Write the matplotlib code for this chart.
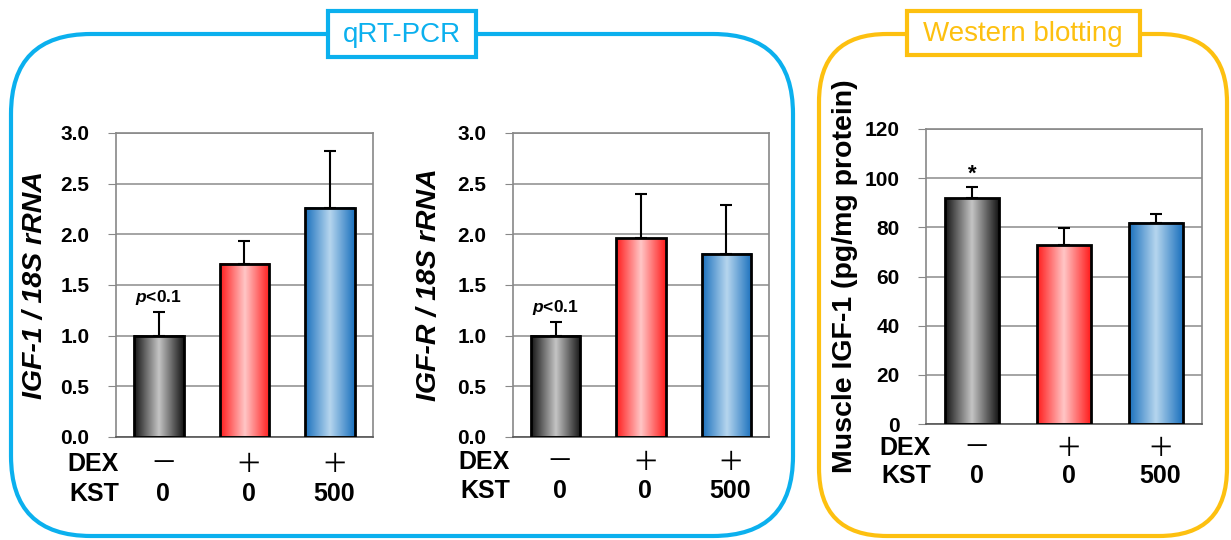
import numpy as np
import matplotlib
matplotlib.use("Agg")
import matplotlib.pyplot as plt
from matplotlib.patches import FancyBboxPatch, Rectangle
from matplotlib.colors import to_rgb
from matplotlib.transforms import blended_transform_factory

plt.rcParams['font.family'] = ['Liberation Sans', 'DejaVu Sans']
plt.rcParams['mathtext.fontset'] = 'custom'
plt.rcParams['mathtext.bfit'] = 'Liberation Sans:italic:bold'

# group settings
dex_labels = ['－', '＋', '＋']
kst_labels = ['0', '0', '500']

# qRT-PCR: IGF-1 / 18S rRNA
igf1_mean = [1.00, 1.71, 2.26]
igf1_err = [0.23, 0.22, 0.56]
# qRT-PCR: IGF-R / 18S rRNA
igfr_mean = [1.00, 1.96, 1.81]
igfr_err = [0.13, 0.44, 0.48]
# Western blotting: muscle IGF-1
musc_mean = [91.8, 72.8, 81.8]
musc_err = [4.6, 6.8, 3.5]

# (edge colour, centre colour) for the shaded bars
bar_shades = [('#151515', '#c4c4c4'),
              ('#ff1c1c', '#ffc6c6'),
              ('#1a70bd', '#b6d6ee')]

W, H = 1231, 540
fig = plt.figure(figsize=(W / 100, H / 100), dpi=100)


def fx(px):
    return px / W


def fy(py):
    return 1 - py / H


def shaded_bar(ax, x, h, width, edge, centre):
    t = np.linspace(0, 1, 200)
    w = 1 - np.abs(2 * t - 1)
    c0, c1 = np.array(to_rgb(edge)), np.array(to_rgb(centre))
    img = c0[None, :] + (c1 - c0)[None, :] * w[:, None]
    ax.imshow(img[None, :, :], extent=[x - width / 2, x + width / 2, 0, h],
              aspect='auto', zorder=2, interpolation='bilinear')


def panel(box, means, errs, ylim, yticks, fmt, ylabel, ylabel_x, label_style,
          label_x, rows_y, note, note_off, note_size):
    l, t, r, b = box
    ax = fig.add_axes([fx(l), fy(b), fx(r - l), (b - t) / H])
    x = np.arange(len(means))
    width = 0.58
    for xi, m, (e, c) in zip(x, means, bar_shades):
        shaded_bar(ax, xi, m, width, e, c)
    ax.bar(x, means, width, color='none', edgecolor='black', linewidth=2,
           zorder=4)
    ax.errorbar(x, means, yerr=[np.zeros(len(errs)), errs], fmt='none',
                ecolor='black', elinewidth=1.5, capsize=4, capthick=1.5,
                zorder=5)
    ax.set_xlim(-0.5, 2.5)
    ax.set_ylim(*ylim)
    ax.set_yticks(yticks)
    ax.set_yticklabels([fmt.format(v) for v in yticks], fontsize=15,
                       fontweight='bold')
    ax.set_xticks([])
    ax.yaxis.grid(True, color='#8c8c8c', linewidth=1.1)
    for g in ax.get_ygridlines():
        g.set_zorder(3)
    for s in ax.spines.values():
        s.set_color('#888888')
        s.set_linewidth(1.2)
    ax.spines['bottom'].set_color('#555555')
    ax.tick_params(axis='y', length=6, color='#888888', pad=13)

    fig.text(fx(ylabel_x), fy((t + b) / 2), ylabel, rotation=90, ha='center',
             va='center', fontsize=20.5, fontweight='bold', style=label_style)

    tr = blended_transform_factory(ax.transData, fig.transFigure)
    fig.text(fx(label_x), fy(rows_y[0]), 'DEX', ha='right', va='center',
             fontsize=18, fontweight='bold')
    fig.text(fx(label_x), fy(rows_y[1]), 'KST', ha='right', va='center',
             fontsize=18, fontweight='bold')
    for xi, d, k in zip(x, dex_labels, kst_labels):
        ax.text(xi + 0.05, fy(rows_y[0]), d, transform=tr, ha='center',
                va='center', fontsize=19, family='Noto Sans CJK JP')
        ax.text(xi + 0.05, fy(rows_y[1]), k, transform=tr, ha='center',
                va='center', fontsize=18, fontweight='bold')

    ax.text(0, means[0] + errs[0] + note_off, note, ha='center', va='bottom',
            fontsize=note_size, fontweight='bold', zorder=6)
    return ax


panel((116, 133, 373, 437), igf1_mean, igf1_err, (0, 3.0),
      np.arange(0, 3.01, 0.5), '{:.1f}', 'IGF-1 / 18S rRNA', 35, 'italic',
      119, (464, 494), r'$\mathbfit{p}$<0.1', 0.05, 12.5)
panel((513, 133, 769, 437), igfr_mean, igfr_err, (0, 3.0),
      np.arange(0, 3.01, 0.5), '{:.1f}', 'IGF-R / 18S rRNA', 429, 'italic',
      510, (462, 491), r'$\mathbfit{p}$<0.1', 0.05, 12.5)
panel((926, 129, 1202, 424), musc_mean, musc_err, (0, 120),
      np.arange(0, 121, 20), '{:.0f}', 'Muscle IGF-1 (pg/mg protein)', 845,
      'normal', 931, (448, 476), '*', 1.0, 16)

# rounded group frames with title tabs
bg = fig.add_axes([0, 0, 1, 1], zorder=-1)
bg.set_xlim(0, W)
bg.set_ylim(H, 0)
bg.axis('off')

blue, orange = '#0bb0ee', '#fdc010'
bg.add_patch(FancyBboxPatch((11, 34), 782, 502,
                            boxstyle='round,pad=0,rounding_size=80',
                            fill=False, edgecolor=blue, linewidth=3))
bg.add_patch(FancyBboxPatch((819, 34), 408, 502,
                            boxstyle='round,pad=0,rounding_size=68',
                            fill=False, edgecolor=orange, linewidth=3))
bg.add_patch(Rectangle((328, 11), 148, 46, facecolor='white',
                       edgecolor=blue, linewidth=3, zorder=3))
bg.add_patch(Rectangle((907, 11), 233, 44, facecolor='white',
                       edgecolor=orange, linewidth=3, zorder=3))
bg.text(402, 35, 'qRT-PCR', ha='center', va='center', fontsize=20,
        color=blue, zorder=4)
bg.text(1023, 34, 'Western blotting', ha='center', va='center', fontsize=20,
        color=orange, zorder=4)

fig.savefig('out.png', dpi=100)
